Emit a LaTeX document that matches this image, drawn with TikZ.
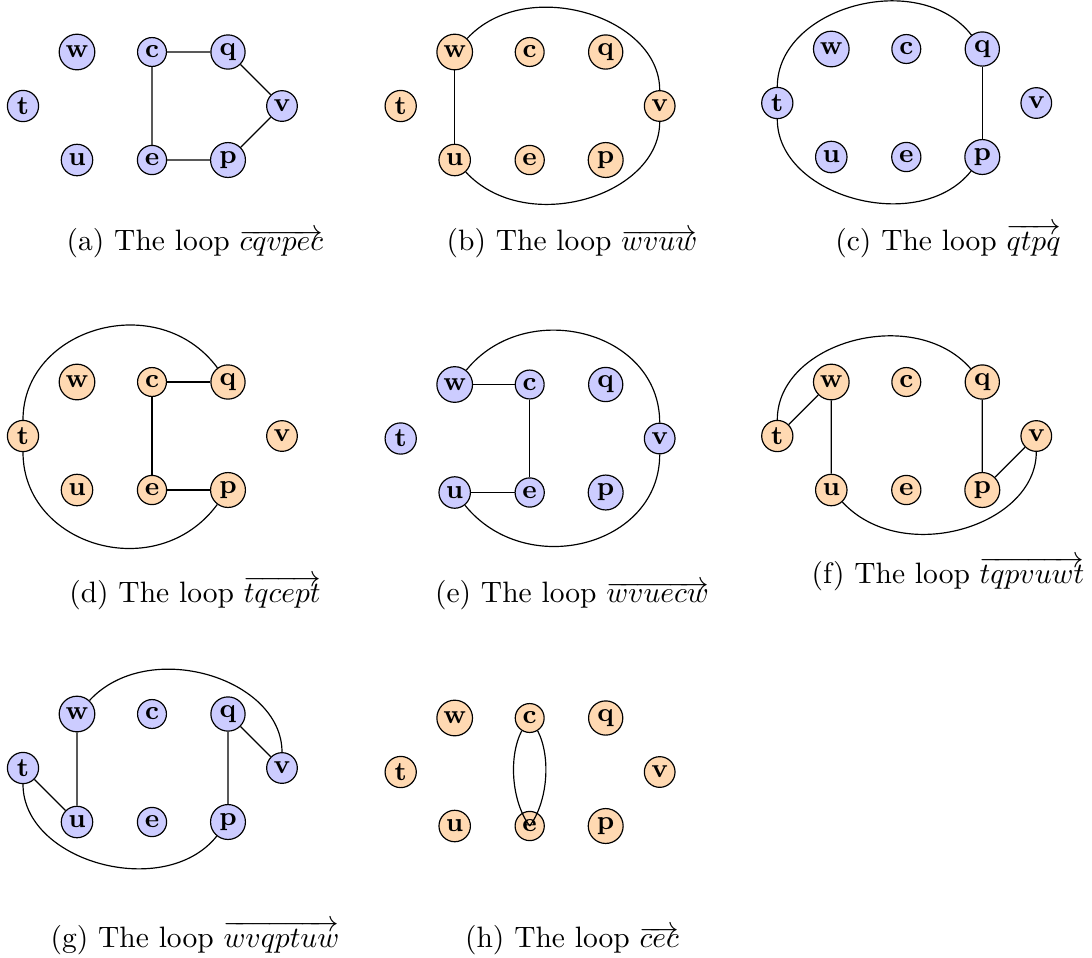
\documentclass[tikz,border=0pt]{standalone}
\begin{document}
\tikzset{
  vtx/.style={circle,draw,inner sep=1.25pt,font=\small\bfseries},
  vb/.style={vtx,fill=blue!20},
  vo/.style={vtx,fill=orange!30},
  captext/.style={anchor=base,font=\normalsize}
}
\newcommand{\allnodes}[1]{%
  \node[#1] (t) at (23,106) {t};
  \node[#1] (w) at (77,52) {w};
  \node[#1] (c) at (152,52) {c};
  \node[#1] (q) at (228,52) {q};
  \node[#1] (v) at (282,106) {v};
  \node[#1] (u) at (77,160) {u};
  \node[#1] (e) at (152,160) {e};
  \node[#1] (p) at (228,160) {p};
}
\begin{tikzpicture}[x=0.33898pt,y=-0.33898pt]
\useasboundingbox (0,0) rectangle (1092,957);
% (a)
\begin{scope}[shift={(0,0)},name prefix=a-]
  \allnodes{vb}
  \draw (c) -- (q) -- (v) -- (p) -- (e) -- (c);
\end{scope}
% (b)
\begin{scope}[shift={(377.7,0)},name prefix=b-]
  \allnodes{vo}
  \draw (w) -- (u);
  \draw (w) .. controls (148,-25) and (282,16) .. (v);
  \draw (v) .. controls (282,196) and (148,237) .. (u);
\end{scope}
% (c)
\begin{scope}[shift={(754.3,-3)},name prefix=c-]
  \allnodes{vb}
  \draw (q) -- (p);
  \draw (t) .. controls (23,10) and (165,-29) .. (q);
  \draw (t) .. controls (23,200) and (165,239) .. (p);
\end{scope}
% (d)
\begin{scope}[shift={(0,330)},name prefix=d-]
  \allnodes{vo}
  \draw (q) -- (c) -- (e) -- (p);
  \draw (t) .. controls (23,-2) and (158,-42) .. (q);
  \draw (t) .. controls (23,216) and (157,256) .. (p);
\end{scope}
% (e)
\begin{scope}[shift={(377.7,332.5)},name prefix=e-]
  \allnodes{vb}
  \draw (w) -- (c) -- (e) -- (u);
  \draw (w) .. controls (148,-36) and (282,-2) .. (v);
  \draw (v) .. controls (282,214) and (148,248) .. (u);
\end{scope}
% (f)
\begin{scope}[shift={(754.3,330)},name prefix=f-]
  \allnodes{vo}
  \draw (t) -- (w) -- (u);
  \draw (q) -- (p) -- (v);
  \draw (t) .. controls (23,12) and (160,-26) .. (q);
  \draw (v) .. controls (282,196) and (148,237) .. (u);
\end{scope}
% (g)
\begin{scope}[shift={(0,662)},name prefix=g-]
  \allnodes{vb}
  \draw (w) -- (u) -- (t);
  \draw (v) -- (q) -- (p);
  \draw (w) .. controls (148,-25) and (282,16) .. (v);
  \draw (t) .. controls (23,200) and (165,239) .. (p);
\end{scope}
% (h)
\begin{scope}[shift={(377.7,666)},name prefix=h-]
  \allnodes{vo}
  \draw (c) to[bend left=32,looseness=0.8] (e);
  \draw (c) to[bend right=32,looseness=0.8] (e);
\end{scope}
% captions
\node[captext] (capa) at (195,250) {(a) The loop $\overrightarrow{cqvpec}$};
\node[captext] (capb) at (572,250) {(b) The loop $\overrightarrow{wvuw}$};
\node[captext] (capc) at (948,250) {(c) The loop $\overrightarrow{qtpq}$};
\node[captext] (capd) at (195,602) {(d) The loop $\overrightarrow{tqcept}$};
\node[captext] (cape) at (572,602) {(e) The loop $\overrightarrow{wvuecw}$};
\node[captext] (capf) at (948,583) {(f) The loop $\overrightarrow{tqpvuwt}$};
\node[captext] (capg) at (195,947) {(g) The loop $\overrightarrow{wvqptuw}$};
\node[captext] (caph) at (572,947) {(h) The loop $\overrightarrow{cec}$};
\end{tikzpicture}
\end{document}
